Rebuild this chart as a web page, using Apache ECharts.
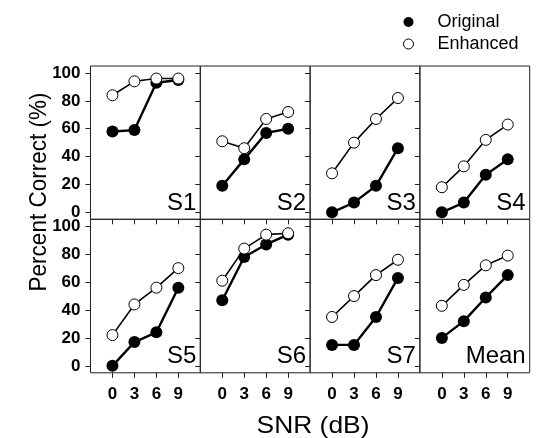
<!DOCTYPE html>
<html>
<head>
<meta charset="utf-8">
<script src="https://cdn.jsdelivr.net/npm/echarts@6/dist/echarts.min.js"></script>
<style>
  html, body { margin: 0; padding: 0; background: #fff; }
  #chart { width: 536px; height: 438px; }
</style>
</head>
<body>
<div id="chart"></div>
<script>
// SNR levels (dB) shared by all panels
const snrLevels = [0, 3, 6, 9];
const snrTickLabels = ['0', '3', '6', '9'];
const percentTicks = [0, 20, 40, 60, 80, 100];
const panelNames = ['S1', 'S2', 'S3', 'S4', 'S5', 'S6', 'S7', 'Mean'];

// Percent correct, original speech
const s1Original = [58, 59, 93, 95];
const s2Original = [19, 38, 57, 60];
const s3Original = [0, 7, 19, 46];
const s4Original = [0, 7, 27, 38];
const s5Original = [0, 17, 24, 56];
const s6Original = [47, 78, 87, 94];
const s7Original = [15, 15, 35, 63];
const meanOriginal = [20, 32, 49, 65];

// Percent correct, enhanced speech
const s1Enhanced = [84, 94, 96, 96];
const s2Enhanced = [51, 46, 67, 72];
const s3Enhanced = [28, 50, 67, 82];
const s4Enhanced = [18, 33, 52, 63];
const s5Enhanced = [22, 44, 56, 70];
const s6Enhanced = [61, 84, 94, 95];
const s7Enhanced = [35, 50, 65, 76];
const meanEnhanced = [43, 58, 72, 79];

const originalSets = [s1Original, s2Original, s3Original, s4Original,
                      s5Original, s6Original, s7Original, meanOriginal];
const enhancedSets = [s1Enhanced, s2Enhanced, s3Enhanced, s4Enhanced,
                      s5Enhanced, s6Enhanced, s7Enhanced, meanEnhanced];

const FONT = '"Liberation Sans", Arial, Helvetica, sans-serif';
const panelLeft = 90.5, panelW = 109.8;
const rowTop = [66, 219.3], rowH = [153.3, 153.5];

const grids = [], xAxes = [], yAxes = [], series = [], labels = [];
panelNames.forEach((name, i) => {
  const col = i % 4, row = Math.floor(i / 4);
  const left = panelLeft + col * panelW;
  const top = rowTop[row];
  grids.push({
    left: left, top: top, width: panelW, height: rowH[row],
    show: true, borderColor: '#222', borderWidth: 1, backgroundColor: 'transparent'
  });
  xAxes.push({
    type: 'value', gridIndex: i, min: -3, max: 12, interval: 3,
    splitLine: { show: false },
    axisLine: { show: false, onZero: false },
    axisTick: { show: true, length: 5, inside: false, customValues: snrLevels,
                lineStyle: { color: '#222', width: 1 } },
    axisLabel: { show: row === 1, margin: 13, customValues: snrLevels,
                 formatter: v => snrTickLabels[snrLevels.indexOf(v)],
                 color: '#000', fontSize: 17, fontWeight: 'bold', fontFamily: FONT }
  });
  yAxes.push({
    type: 'value', gridIndex: i, min: -5, max: 105, interval: 20,
    splitLine: { show: false },
    axisLine: { show: false, onZero: false },
    axisTick: { show: true, length: 5, inside: false, customValues: percentTicks,
                lineStyle: { color: '#222', width: 1 } },
    axisLabel: { show: col === 0, margin: 10, customValues: percentTicks,
                 color: '#000', fontSize: 17, fontWeight: 'bold', fontFamily: FONT }
  });
  series.push({
    name: 'Original', type: 'line', xAxisIndex: i, yAxisIndex: i,
    data: snrLevels.map((x, k) => [x, originalSets[i][k]]),
    symbol: 'circle', symbolSize: 12, z: 2,
    lineStyle: { color: '#000', width: 2.4 },
    itemStyle: { color: '#000', borderColor: '#000', borderWidth: 0 },
    emphasis: { disabled: true }, animation: false
  });
  series.push({
    name: 'Enhanced', type: 'line', xAxisIndex: i, yAxisIndex: i,
    data: snrLevels.map((x, k) => [x, enhancedSets[i][k]]),
    symbol: 'circle', symbolSize: 11, z: 3,
    lineStyle: { color: '#000', width: 1.6 },
    itemStyle: { color: '#fff', borderColor: '#000', borderWidth: 1 },
    emphasis: { disabled: true }, animation: false
  });
  labels.push({
    type: 'text',
    x: left + panelW - 4, y: top + rowH[row] - 4,
    style: { text: name, fill: '#000', font: '24px ' + FONT,
             textAlign: 'right', textVerticalAlign: 'bottom' }
  });
});

const chart = echarts.init(document.getElementById('chart'), null, { renderer: 'canvas' });
chart.setOption({
  animation: false,
  backgroundColor: '#fff',
  grid: grids,
  xAxis: xAxes,
  yAxis: yAxes,
  series: series,
  legend: {
    orient: 'vertical', left: 398, top: 8,
    itemWidth: 10, itemHeight: 10, itemGap: 4,
    icon: 'circle',
    data: [
      { name: 'Original', itemStyle: { color: '#000', borderColor: '#000', borderWidth: 0 } },
      { name: 'Enhanced', itemStyle: { color: '#fff', borderColor: '#000', borderWidth: 1 } }
    ],
    textStyle: { color: '#000', fontSize: 18, fontFamily: FONT, padding: [0, 0, 0, 19] },
    selectedMode: false
  },
  graphic: labels.concat([
    {
      type: 'text', x: 39, y: 192, rotation: Math.PI / 2, scaleY: 1.1,
      style: { text: 'Percent Correct (%)', fill: '#000', font: '22.5px ' + FONT,
               textAlign: 'center', textVerticalAlign: 'middle' }
    },
    {
      type: 'text', x: 313, y: 426, scaleX: 1.1,
      style: { text: 'SNR (dB)', fill: '#000', font: '24px ' + FONT,
               textAlign: 'center', textVerticalAlign: 'middle' }
    }
  ])
});
</script>
</body>
</html>
